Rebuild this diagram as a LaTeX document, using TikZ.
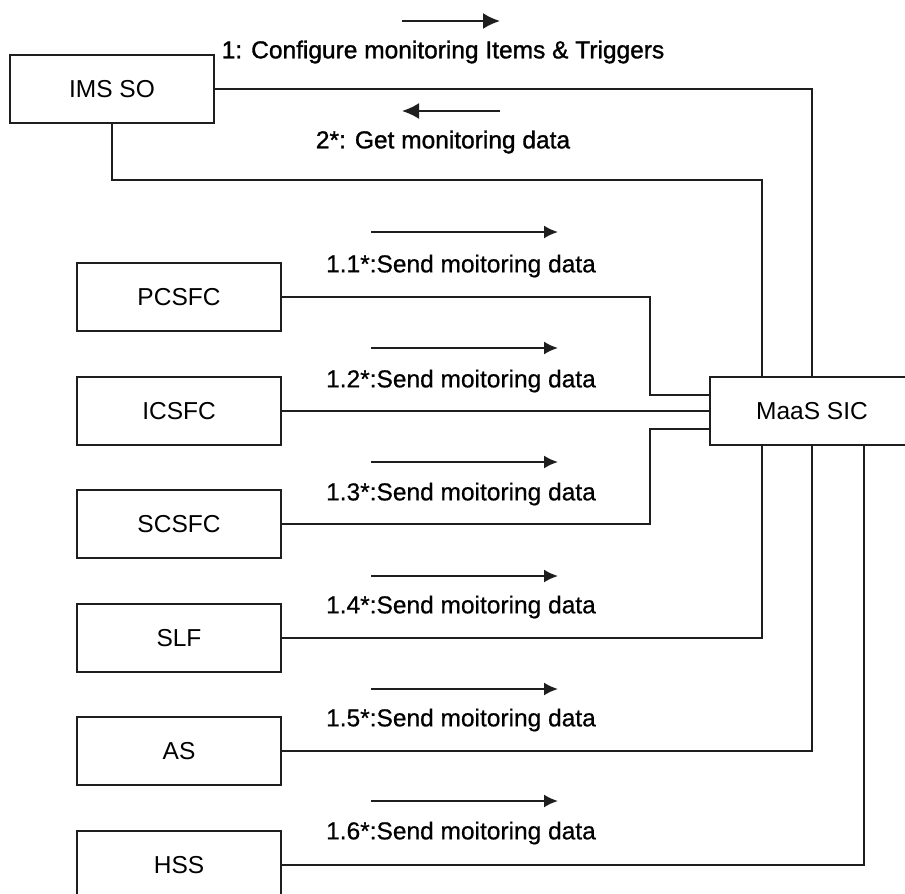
\documentclass[tikz,border=0pt]{standalone}
\usepackage{fontspec}
\setmainfont{Liberation Sans}
\newfontfamily\msgfont[FakeBold=0.6]{Liberation Sans}
\newfontfamily\topfont[FakeBold=1.2]{Liberation Sans}
\usetikzlibrary{arrows.meta}
\definecolor{ink}{HTML}{1E1E1E}
\tikzset{
  boxnode/.style={draw=ink, line width=2pt, minimum width=204pt, minimum height=68pt, inner sep=0pt,
    font=\fontsize{24.5}{29}\selectfont, text=black},
  link/.style={draw=ink, line width=2pt},
  msgarrow/.style={draw=ink, line width=2pt, -{Latex[length=14pt,width=13pt]}},
  toparrow/.style={draw=ink, line width=2pt, -{Latex[length=17pt,width=16pt]}},
  msglabel/.style={inner sep=0pt, font=\msgfont\fontsize{24.5}{29}\selectfont, text=black},
  toplabel/.style={inner sep=0pt, font=\topfont\fontsize{24.5}{29}\selectfont, text=black},
}
\begin{document}
\begin{tikzpicture}[x=1pt,y=-1pt]
\useasboundingbox (0,0) rectangle (905,894);
% boxes
\node[boxnode] (ims) at (112,89) {IMS SO};
\node[boxnode] (pcsfc) at (179,297) {PCSFC};
\node[boxnode] (icsfc) at (179,411) {ICSFC};
\node[boxnode] (scsfc) at (179,524) {SCSFC};
\node[boxnode] (slf) at (179,638) {SLF};
\node[boxnode] (as) at (179,751) {AS};
\node[boxnode] (hss) at (179,865) {HSS};
\node[boxnode] (sic) at (812,411) {MaaS SIC};
% helper coordinates
\coordinate (t1) at (762,180);
\coordinate (j1) at (650,395);
\coordinate (j2) at (650,429);
\coordinate (b3) at (864,445);
% connectors
\draw[link] (ims.east) -| (sic.north);
\draw[link] (ims.south) |- (t1) -- (t1 |- sic.north);
\draw[link] (pcsfc.east) -| (j1) -- (j1 -| sic.west);
\draw[link] (icsfc.east) -- (icsfc.east -| sic.west);
\draw[link] (scsfc.east) -| (j2) -- (j2 -| sic.west);
\draw[link] (slf.east) -| (t1 |- sic.south);
\draw[link] (as.east) -| (sic.south);
\draw[link] (hss.east) -| (b3 |- sic.south);
% top messages
\coordinate (a1s) at (402,21);
\coordinate (a1e) at (500,21);
\coordinate (a2s) at (500,111);
\coordinate (a2e) at (402,111);
\draw[toparrow] (a1s) -- (a1e);
\draw[toparrow] (a2s) -- (a2e);
\node[toplabel] (l1) at (443,52) {1: Configure monitoring Items \& Triggers};
\node[toplabel] (l2) at (443,142) {2*: Get monitoring data};
% send messages
\foreach \i/\ay/\ly in {1/232/266, 2/348/381, 3/462/494, 4/576/607, 5/689/720, 6/801/833} {
  \coordinate (s\i) at (371,\ay);
  \coordinate (e\i) at (558,\ay);
  \draw[msgarrow] (s\i) -- (e\i);
  \node[msglabel] (m\i) at (461,\ly) {1.\i*:Send moitoring data};
}
\end{tikzpicture}
\end{document}
